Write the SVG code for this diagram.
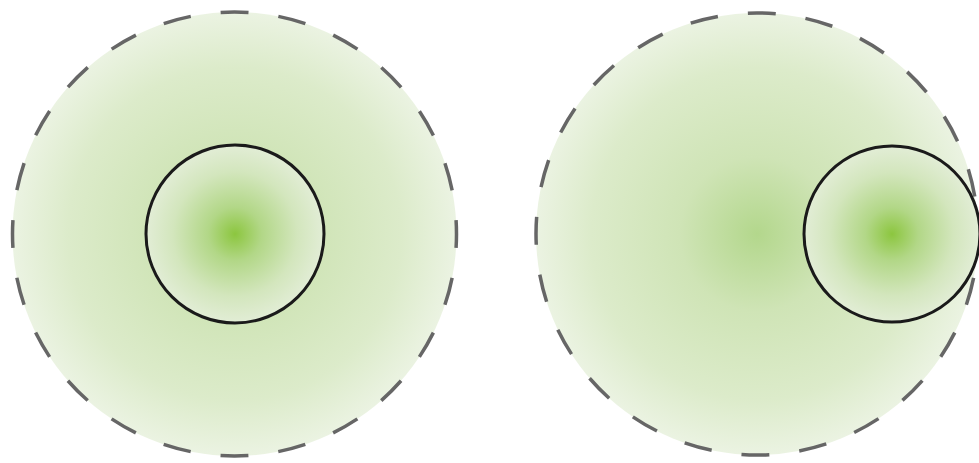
<svg xmlns="http://www.w3.org/2000/svg" width="979" height="463" viewBox="0 0 979 463">
<defs>
<radialGradient id="outer" cx="0.5" cy="0.5" r="0.5">
<stop offset="0" stop-color="#b3d78c"/>
<stop offset="0.35" stop-color="#cfe4b6"/>
<stop offset="0.75" stop-color="#dcebca"/>
<stop offset="1" stop-color="#ebf3e2"/>
</radialGradient>
<radialGradient id="inner" cx="0.5" cy="0.5" r="0.5">
<stop offset="0" stop-color="#8cc63f"/>
<stop offset="0.3" stop-color="#b2d787"/>
<stop offset="0.7" stop-color="#d3e6bd"/>
<stop offset="1" stop-color="#e2edd6"/>
</radialGradient>
<style>
.outer{fill:url(#outer);stroke:#666;stroke-width:3.5;stroke-dasharray:28 30.1;stroke-dashoffset:14}
.inner{fill:url(#inner);stroke:#1a1a1a;stroke-width:3}
</style>
</defs>
<rect width="979" height="463" fill="#fff"/>
<g id="left">
<circle class="outer" cx="234.5" cy="234" r="222"/>
<circle class="inner" cx="235" cy="234" r="89"/>
</g>
<g id="right">
<circle class="outer" cx="757" cy="234" r="221"/>
<circle class="inner" cx="892" cy="234" r="88"/>
</g>
</svg>
